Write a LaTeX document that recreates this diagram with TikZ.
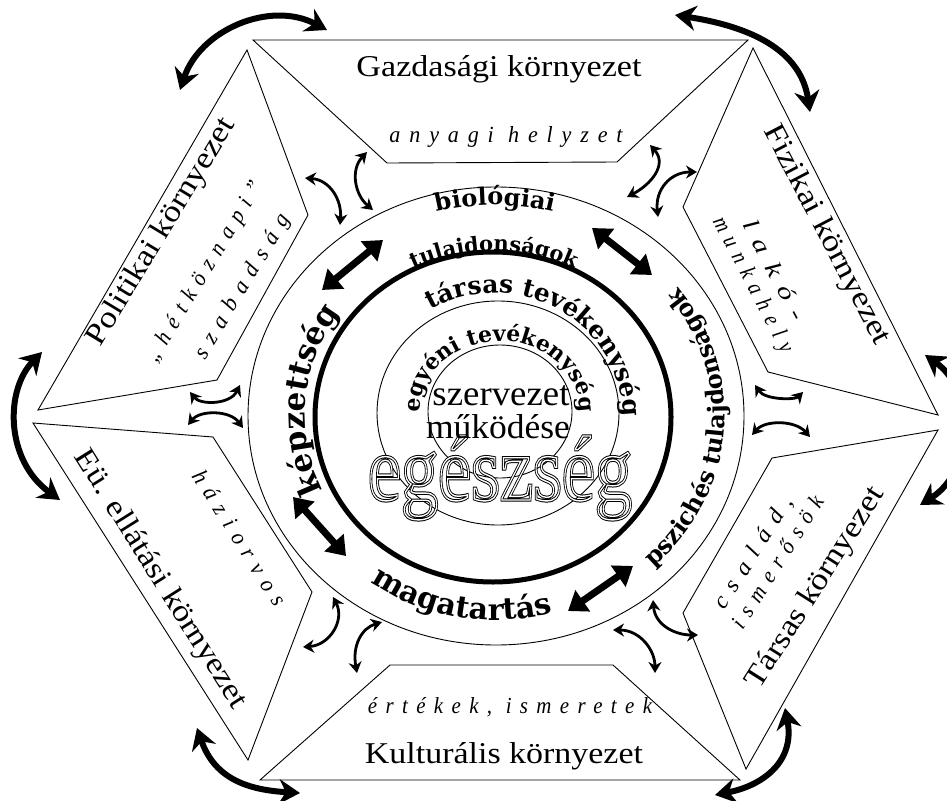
\documentclass[tikz,border=0pt]{standalone}
\usepackage{fontspec}
\setmainfont{Liberation Serif}
\newfontfamily\ringf{DejaVu Serif}
\newfontfamily\itf[LetterSpace=40]{Liberation Serif}
\usetikzlibrary{arrows.meta,decorations.text}
\newcommand\fb[3]{\resizebox{#1pt}{#2pt}{#3}}
\newcommand\egword[1]{\resizebox{264pt}{64pt}{\fontsize{60}{60}\selectfont\special{pdf:literal direct 1 Tr #1 w}eg\'eszs\'eg\special{pdf:literal direct 0 Tr}}}
\begin{document}
\begin{tikzpicture}[x=1pt,y=-1pt,
  panel/.style={draw,line width=0.9pt,line join=miter},
  ring/.style={draw,line width=0.9pt},
  bigarr/.style={line width=6pt,{Stealth[length=21pt,width=25pt]}-{Stealth[length=21pt,width=25pt]}},
  smallarr/.style={line width=2.8pt,{Stealth[length=11pt,width=13pt]}-{Stealth[length=11pt,width=13pt]}},
  strarr/.style={line width=7pt,{Triangle[length=18pt,width=25pt]}-{Triangle[length=18pt,width=25pt]}},
  lab/.style={inner sep=0pt,anchor=base},
  rlab/.style={inner sep=0pt,anchor=center},
  rtext/.style={decorate,decoration={text along path,text align=center,text={#1}}}
]
\useasboundingbox (0,0) rectangle (947,800);
\fill[white] (0,0) rectangle (947,800);

% panels
\draw[panel] (253,40) -- (748,40) -- (617,162) -- (387,163) -- cycle;
\draw[panel] (753,48) -- (938,415) -- (768,372) -- (683,207) -- cycle;
\draw[panel] (938,430) -- (746,769) -- (683,613) -- (772,458) -- cycle;
\draw[panel] (740,780) -- (260,780) -- (390,665) -- (613,665) -- cycle;
\draw[panel] (248,760) -- (33,423) -- (213,437) -- (312,592) -- cycle;
\draw[panel] (38,410) -- (247,50) -- (308,215) -- (217,380) -- cycle;

% rings
\draw[ring] (496,416) ellipse [x radius=248,y radius=229];
\draw[line width=5pt] (493,417) ellipse [x radius=178,y radius=165];
\draw[ring] (498,413) ellipse [x radius=121,y radius=112];
\draw[ring] (500,411.5) ellipse [x radius=72,y radius=66.5];

% egészség outlined (double outline)
\node[lab] (egA) at (500,500) {\egword{2.2}};
\node[lab,text=white] (egB) at (500,500) {\egword{0.9}};

% panel labels
\node[lab] (gaz) at (499,77) {\fb{285}{21}{Gazdasági környezet}};
\node[lab] (gazs) at (506,142) {\fb{233}{16}{\itf\itshape anyagi helyzet}};
\node[lab] (kul) at (504,763) {\fb{278}{21}{Kulturális környezet}};
\node[lab] (kuls) at (510,713) {\fb{284}{16}{\itf\itshape értékek, ismeretek}};
\node[rlab,rotate=-62.4] (fiz) at (826,235) {\fb{244}{21}{Fizikai környezet}};
\node[rlab,rotate=58.8] (pol) at (162,232) {\fb{261}{21}{Politikai környezet}};
\node[rlab,rotate=58.8] (pols1) at (205,272) {\fb{207}{16}{\itf\itshape „hétköznapi”}};
\node[rlab,rotate=58.8] (pols2) at (243,287) {\fb{165}{16}{\itf\itshape szabadság}};
\node[rlab,rotate=-57.8] (eu) at (160,580) {\fb{300}{21}{Eü. ellátási környezet}};
\node[rlab,rotate=-57.8] (eus) at (240,538) {\fb{156}{16}{\itf\itshape háziorvos}};
\node[rlab,rotate=57.6] (tar) at (816,588) {\fb{233}{21}{Társas környezet}};
\node[rlab,rotate=57.6] (tars1) at (754,553) {\fb{129}{16}{\itf\itshape család,}};
\node[rlab,rotate=57.6] (tars2) at (777,562) {\fb{153}{16}{\itf\itshape ismerősök}};
\node[rlab,rotate=-62.4] (fizs1) at (775,270) {\fb{110}{16}{\itf\itshape lakó-}};
\node[rlab,rotate=-62.4] (fizs2) at (752,285) {\fb{150}{16}{\itf\itshape munkahely}};

% ring texts
\path[rtext={|\ringf\bfseries\fontsize{24}{24}\selectfont|biológiai}]
  (495,415) ++(-120:227 and 210) arc[start angle=-120,end angle=-60,x radius=227,y radius=210];
\path[rtext={|\ringf\bfseries\fontsize{21}{21}\selectfont|tulajdonságok}]
  (494,417) ++(-130:180 and 166) arc[start angle=-130,end angle=-50,x radius=180,y radius=166];
\path[rtext={|\ringf\bfseries\fontsize{24}{24}\selectfont|pszichés tulajdonságok}]
  (495,415) ++(62:230 and 210) arc[start angle=62,end angle=-53,x radius=230,y radius=210];
\path[rtext={|\ringf\bfseries\fontsize{31}{31}\selectfont|képzettség}]
  (495,415) ++(140:190 and 176) arc[start angle=140,end angle=230,x radius=190,y radius=176];
\path[rtext={|\ringf\bfseries\fontsize{30}{30}\selectfont|magatartás}]
  (495,415) ++(145:215 and 205) arc[start angle=145,end angle=55,x radius=215,y radius=205];
\path[rtext={|\ringf\bfseries\fontsize{25}{25}\selectfont|társas tevékenység}]
  (495,417) ++(-150:128 and 124) arc[start angle=-150,end angle=30,x radius=128,y radius=124];
\path[rtext={|\ringf\bfseries\fontsize{22}{22}\selectfont|egyéni tevékenység}]
  (500,411) ++(-190:80 and 70) arc[start angle=-190,end angle=10,x radius=80,y radius=70];

% centre
\node[lab] (szerv) at (501,405) {\fb{137}{20}{szervezet}};
\node[lab] (muk) at (498,438) {\fb{144}{24}{működése}};

% thick straight arrows
\coordinate (s1a) at (322,290); \coordinate (s1b) at (383,240);
\coordinate (s2a) at (592,228); \coordinate (s2b) at (652,275);
\coordinate (s3a) at (293,497); \coordinate (s3b) at (346,556);
\coordinate (s4a) at (633,566); \coordinate (s4b) at (568,611);
\draw[strarr] (s1a) -- (s1b);
\draw[strarr] (s2a) -- (s2b);
\draw[strarr] (s3a) -- (s3b);
\draw[strarr] (s4a) -- (s4b);

% big curved arrows
\coordinate (b1a) at (180,90); \coordinate (b1b) at (327,30);
\coordinate (b2a) at (675,15); \coordinate (b2b) at (810,112);
\coordinate (b3a) at (925,355); \coordinate (b3b) at (920,505);
\coordinate (b4a) at (785,708); \coordinate (b4b) at (715,795);
\coordinate (b5a) at (197,728); \coordinate (b5b) at (300,793);
\coordinate (b6a) at (42,352); \coordinate (b6b) at (60,500);
\draw[bigarr] (b1a) .. controls (200,30) and (270,0) .. (b1b);
\draw[bigarr] (b2a) .. controls (740,25) and (800,45) .. (b2b);
\draw[bigarr] (b3a) .. controls (975,390) and (975,470) .. (b3b);
\draw[bigarr] (b4a) .. controls (795,760) and (765,785) .. (b4b);
\draw[bigarr] (b5a) .. controls (215,780) and (250,790) .. (b5b);
\draw[bigarr] (b6a) .. controls (5,390) and (5,460) .. (b6b);

% small curved arrows
\coordinate (aA1) at (305,178); \coordinate (aA2) at (340,225);
\coordinate (aB1) at (367,152); \coordinate (aB2) at (373,210);
\coordinate (aC1) at (650,145); \coordinate (aC2) at (627,197);
\coordinate (aD1) at (697,172); \coordinate (aD2) at (658,217);
\coordinate (aE1) at (653,600); \coordinate (aE2) at (698,635);
\coordinate (aF1) at (613,630); \coordinate (aF2) at (655,673);
\coordinate (aG1) at (333,597); \coordinate (aG2) at (303,647);
\coordinate (aH1) at (382,622); \coordinate (aH2) at (357,673);
\coordinate (aI1) at (188,425); \coordinate (aI2) at (243,428);
\coordinate (aJ1) at (190,392); \coordinate (aJ2) at (240,385);
\coordinate (aK1) at (752,435); \coordinate (aK2) at (810,437);
\coordinate (aL1) at (755,385); \coordinate (aL2) at (803,392);
\draw[smallarr] (aA1) .. controls (330,180) and (342,200) .. (aA2);
\draw[smallarr] (aB1) .. controls (350,170) and (355,195) .. (aB2);
\draw[smallarr] (aC1) .. controls (668,165) and (650,185) .. (aC2);
\draw[smallarr] (aD1) .. controls (670,172) and (655,190) .. (aD2);
\draw[smallarr] (aE1) .. controls (655,625) and (675,635) .. (aE2);
\draw[smallarr] (aF1) .. controls (640,630) and (655,650) .. (aF2);
\draw[smallarr] (aG1) .. controls (345,620) and (330,645) .. (aG2);
\draw[smallarr] (aH1) .. controls (362,628) and (352,645) .. (aH2);
\draw[smallarr] (aI1) .. controls (200,410) and (230,410) .. (aI2);
\draw[smallarr] (aJ1) .. controls (200,405) and (230,405) .. (aJ2);
\draw[smallarr] (aK1) .. controls (765,420) and (795,420) .. (aK2);
\draw[smallarr] (aL1) .. controls (765,400) and (795,400) .. (aL2);
\end{tikzpicture}
\end{document}
